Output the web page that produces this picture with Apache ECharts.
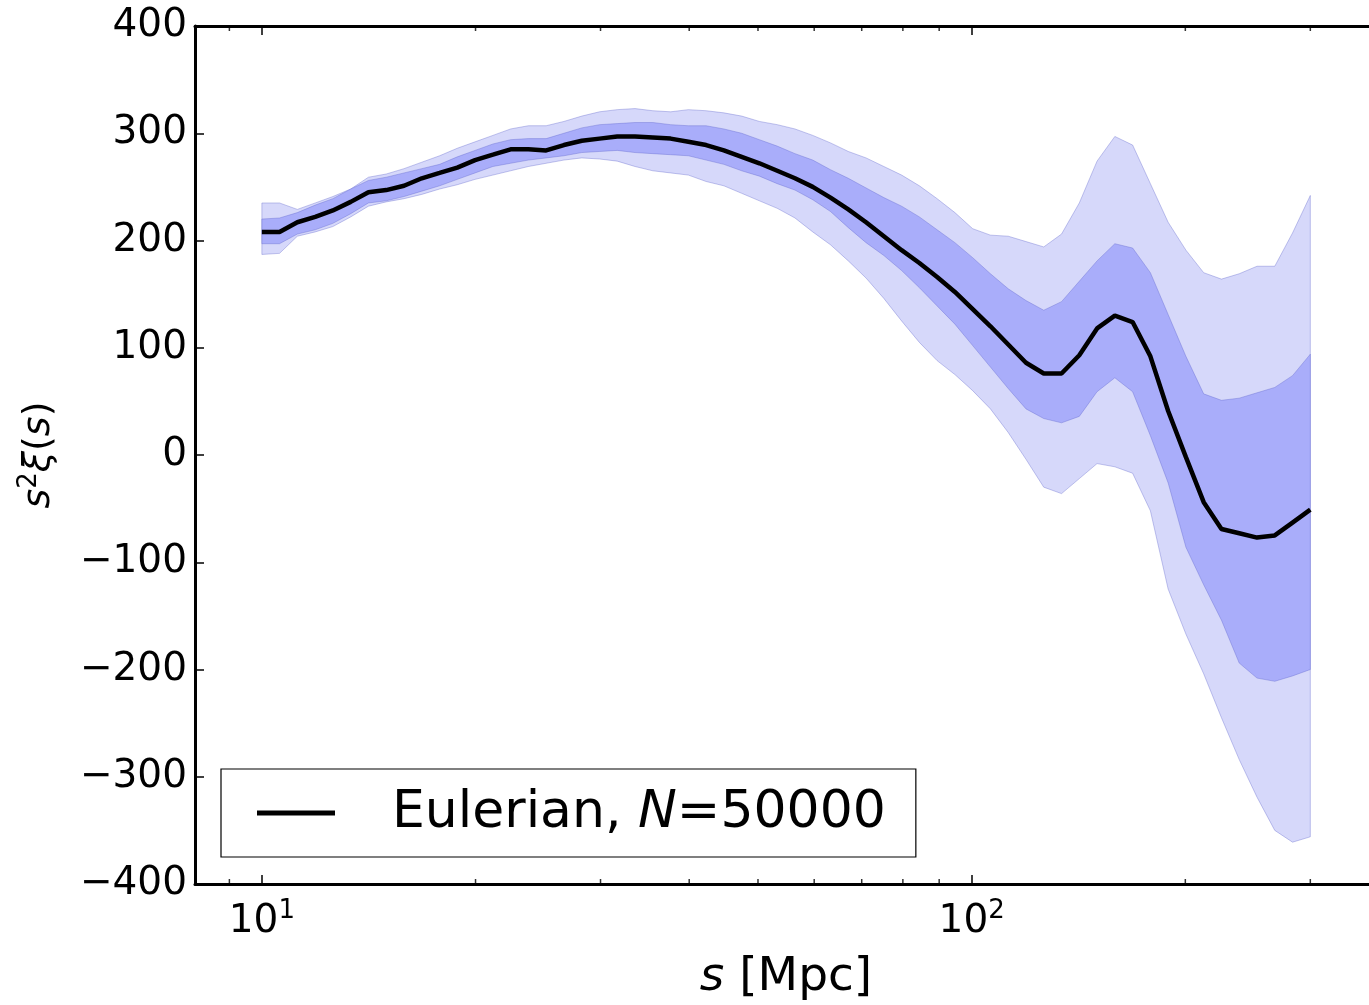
<!DOCTYPE html>
<html><head><meta charset="utf-8">
<script src="https://cdn.jsdelivr.net/npm/echarts@6/dist/echarts.min.js"></script>
<style>html,body{margin:0;padding:0;background:#fff;overflow:hidden;width:1369px;height:1005px}#c{width:1420px;height:1005px}</style>
</head><body><div id="c"></div>
<script>
// separation s [Mpc]
const sValues = [10.00,10.59,11.22,11.89,12.59,13.34,14.13,14.97,15.86,16.80,17.80,18.85,19.97,21.16,22.41,23.74,25.15,26.64,28.23,29.90,31.67,33.55,35.55,37.66,39.89,42.26,44.76,47.42,50.23,53.22,56.37,59.72,63.26,67.02,70.99,75.21,79.67,84.40,89.40,94.71,100.33,106.28,112.59,119.27,126.35,133.85,141.79,150.20,159.12,168.56,178.56,189.16,200.38,212.27,224.87,238.21,252.35,267.32,283.18,300.00];
// mean s^2 xi(s)
const meanValues = [208,208,217,222,228,236,245,247,251,258,263,268,275,280,285,285,284,289,293,295,297,297,296,295,292,289,284,278,272,265,258,250,240,229,217,204,191,179,166,152,136,120,103,86,76,76,93,118,130,124,92,41,-2,-44,-69,-73,-77,-75,-63,-51];
// inner (1 sigma) band
const innerHigh = [220,221,226,233,239,248,256,259,263,267,271,278,284,290,294,295,295,300,305,308,309,310,310,308,307,307,304,300,294,288,281,275,266,258,249,240,232,222,210,198,184,169,155,144,135,143,162,181,197,193,170,131,92,57,51,53,58,63,74,94];
const innerLow = [197,197,206,210,216,225,235,237,241,246,251,257,263,269,272,275,277,279,282,283,284,282,281,280,279,275,271,265,260,253,247,238,227,212,198,186,172,156,139,122,102,82,62,43,34,30,36,59,72,59,18,-26,-86,-121,-154,-194,-208,-211,-206,-200];
// outer (2 sigma) band
const outerHigh = [235,235,229,235,241,248,259,262,267,273,279,286,292,298,304,307,307,311,316,320,322,323,321,320,322,321,319,316,311,308,304,298,291,283,277,269,261,251,239,226,211,205,204,199,194,206,235,274,297,289,253,217,191,170,164,169,176,176,207,242];
const outerLow = [187,188,204,208,213,222,232,236,239,243,248,252,257,261,265,269,272,275,277,276,274,269,265,263,261,255,251,244,237,230,221,208,196,181,165,146,125,105,88,75,60,43,21,-4,-30,-36,-22,-8,-11,-17,-52,-125,-167,-204,-245,-284,-319,-350,-361,-356];
// minor tick positions on the log x axis
const minorTicks = [9,20,30,40,50,60,70,80,90,200,300];

const FONT = 'DejaVu Sans';
const pts = arr => sValues.map((s, i) => [s, arr[i]]);

function bandSeries(name, low, high, fill, z) {
  return {
    name: name, type: 'custom', coordinateSystem: 'cartesian2d', silent: true, z: z,
    data: [[sValues[0], low[0]]],
    encode: {x: 0, y: 1},
    renderItem: (params, api) => {
      const upper = sValues.map((s, i) => api.coord([s, high[i]]));
      const lower = sValues.map((s, i) => api.coord([s, low[i]])).reverse();
      return {
        type: 'polygon',
        shape: {points: upper.concat(lower)},
        style: {fill: fill, stroke: 'rgba(90,95,200,0.35)', lineWidth: 1}
      };
    }
  };
}

const xAxisBase = {
  type: 'log', logBase: 10, min: 8.05, max: 400,
  axisLine: {show: true, onZero: false, lineStyle: {color: '#000', width: 3}},
  axisTick: {show: true, inside: true, length: 9, lineStyle: {color: '#000', width: 1.5}},
  splitLine: {show: false},
  minorTick: {show: false},
  z: 10
};

const chart = echarts.init(document.getElementById('c'));
chart.setOption({
  animation: false,
  backgroundColor: '#fff',
  grid: {left: 195, right: 21, top: 26, bottom: 121, show: false, outerBoundsMode: 'none', containLabel: false},
  xAxis: [
    Object.assign({}, xAxisBase, {
      position: 'bottom',
      name: '{i|s} [Mpc]', nameLocation: 'middle', nameGap: 60,
      nameTextStyle: {fontFamily: FONT, fontSize: 47, color: '#000', lineHeight: 54, padding: [0, 22, 0, 0],
        rich: {i: {fontFamily: FONT, fontSize: 47, fontStyle: 'italic', lineHeight: 54}}},
      axisLabel: {
        show: true, margin: 14, color: '#000', fontFamily: FONT, fontSize: 39, lineHeight: 48,
        showMinLabel: false, showMaxLabel: false,
        formatter: v => '10{sup|' + Math.round(Math.log10(v)) + '}',
        rich: {sup: {fontFamily: FONT, fontSize: 26, verticalAlign: 'top', lineHeight: 26, color: '#000'}}
      }
    }),
    Object.assign({}, xAxisBase, {position: 'top', axisLabel: {show: false}})
  ],
  yAxis: [{
    type: 'value', min: -400, max: 400, interval: 100, position: 'left',
    name: '{i|s}{sup|2}{i|ξ}({i|s})', nameLocation: 'middle', nameGap: 133,
    nameTextStyle: {fontFamily: FONT, fontSize: 38, color: '#000', lineHeight: 46,
      rich: {
        i: {fontFamily: FONT, fontSize: 38, fontStyle: 'italic', lineHeight: 46, color: '#000'},
        sup: {fontFamily: FONT, fontSize: 26, verticalAlign: 'top', lineHeight: 26, color: '#000'}
      }},
    axisLine: {show: true, onZero: false, lineStyle: {color: '#000', width: 3}},
    axisTick: {show: true, inside: true, length: 9, lineStyle: {color: '#000', width: 1.5}},
    splitLine: {show: false},
    axisLabel: {color: '#000', fontFamily: FONT, fontSize: 39, margin: 8,
      formatter: v => v < 0 ? '\u2212' + (-v) : String(v)},
    z: 10
  }, {
    type: 'value', min: -400, max: 400, interval: 100, position: 'right',
    axisLine: {show: true, onZero: false, lineStyle: {color: '#000', width: 3}},
    axisTick: {show: true, inside: true, length: 9, lineStyle: {color: '#000', width: 1.5}},
    axisLabel: {show: false}, splitLine: {show: false}, z: 10
  }],
  legend: {
    data: ['Eulerian'],
    left: 221, top: 769,
    padding: [16, 30, 16, 36],
    backgroundColor: '#fff', borderColor: '#000', borderWidth: 1.2, borderRadius: 0,
    icon: 'rect', itemWidth: 78, itemHeight: 5,
    itemStyle: {color: '#000'},
    formatter: () => 'Eulerian, {i|N}=50000',
    textStyle: {fontFamily: FONT, fontSize: 52, color: '#000', lineHeight: 56, padding: [0, 0, 0, 52],
      rich: {i: {fontFamily: FONT, fontSize: 52, fontStyle: 'italic', color: '#000', lineHeight: 56}}}
  },
  series: [
    bandSeries('outerBand', outerLow, outerHigh, '#d6d8fa', 1),
    bandSeries('innerBand', innerLow, innerHigh, '#a9adfa', 2),
    {name: 'Eulerian', type: 'line', data: pts(meanValues), color: '#000',
      showSymbol: false, symbol: 'none', lineStyle: {color: '#000', width: 4.5}, z: 3},
    {name: 'minorBottom', type: 'scatter', data: minorTicks.map(v => [v, -400]), symbol: 'rect',
      symbolSize: [1.5, 5], symbolOffset: [0, -2.5], itemStyle: {color: '#000'}, clip: false, silent: true, z: 5},
    {name: 'minorTop', type: 'scatter', data: minorTicks.map(v => [v, 400]), symbol: 'rect',
      symbolSize: [1.5, 5], symbolOffset: [0, 2.5], itemStyle: {color: '#000'}, clip: false, silent: true, z: 5}
  ]
});
</script>
</body></html>
